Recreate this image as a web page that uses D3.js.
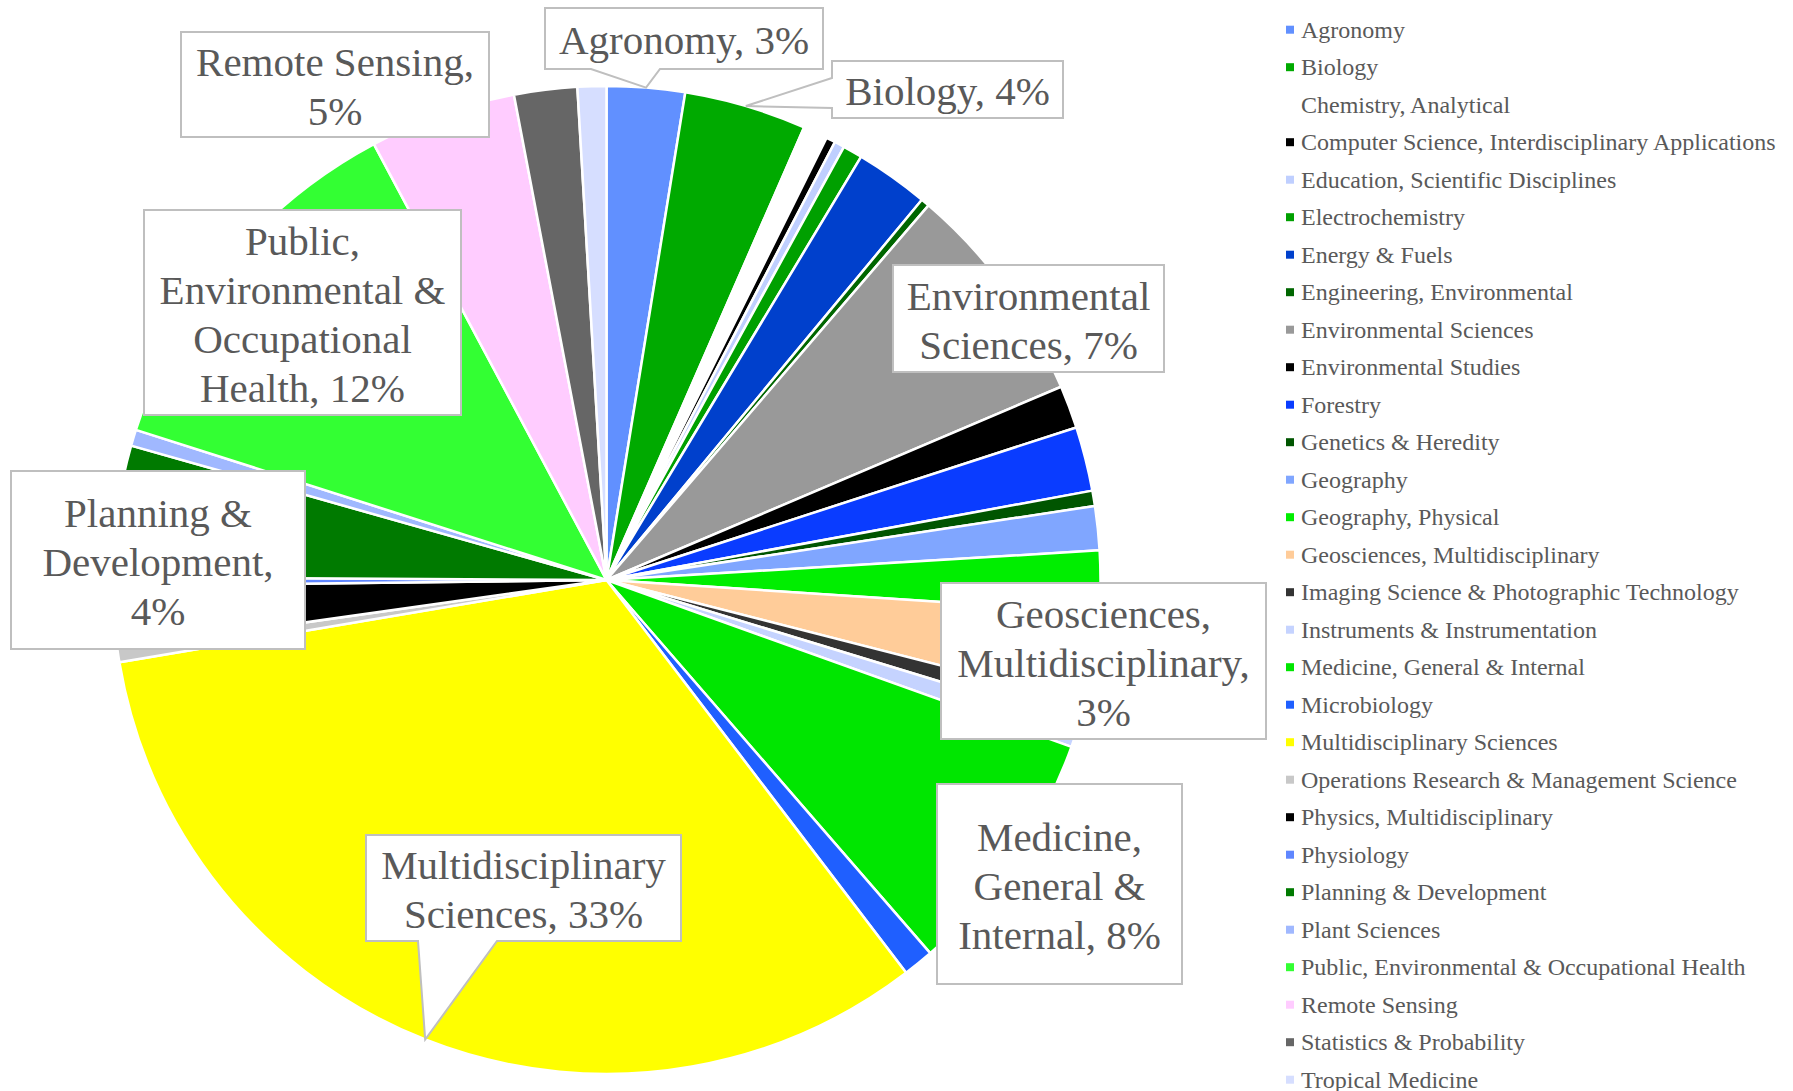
<!DOCTYPE html>
<html>
<head>
<meta charset="utf-8">
<script src="https://cdn.jsdelivr.net/npm/d3@7"></script>
<style>
  body { margin: 0; background: #fff; }
  svg { display: block; font-family: "Liberation Serif", "Times New Roman", serif; }
</style>
</head>
<body>
<svg id="chart"></svg>
<script>
// data
var categories = [
  'Agronomy', 'Biology', 'Chemistry, Analytical', 'Computer Science, Interdisciplinary Applications',
  'Education, Scientific Disciplines', 'Electrochemistry', 'Energy & Fuels', 'Engineering, Environmental',
  'Environmental Sciences', 'Environmental Studies', 'Forestry', 'Genetics & Heredity', 'Geography',
  'Geography, Physical', 'Geosciences, Multidisciplinary', 'Imaging Science & Photographic Technology',
  'Instruments & Instrumentation', 'Medicine, General & Internal', 'Microbiology',
  'Multidisciplinary Sciences', 'Operations Research & Management Science', 'Physics, Multidisciplinary',
  'Physiology', 'Planning & Development', 'Plant Sciences', 'Public, Environmental & Occupational Health',
  'Remote Sensing', 'Statistics & Probability', 'Tropical Medicine'
];

// share of papers, in percent
var values = [
  2.55, 4.0, 0.8, 0.3,
  0.33, 0.64, 2.4, 0.28,
  7.3, 1.4, 2.1, 0.5, 1.44,
  2.0, 2.94, 0.72,
  0.78, 8.14, 1.0,
  32.7, 0.44, 2.03,
  0.28, 4.3, 0.53, 12.28,
  4.8, 2.06, 0.94
];

var colors = [
  '#6190ff', '#00aa00', '#ffffff', '#000000',
  '#bfcfff', '#00a000', '#0040cc', '#006600',
  '#999999', '#000000', '#0a3cff', '#005500', '#80a6ff',
  '#00ee00', '#ffcc99', '#333333',
  '#c5d3ff', '#00e600', '#1f5fff',
  '#ffff00', '#c8c8c8', '#000000',
  '#5f86ff', '#007a00', '#a0b8ff', '#33ff33',
  '#ffccff', '#666666', '#d6deff'
];

// data label boxes (placed by hand, like the original)
var labelBoxes = {
  'Remote Sensing':                            {x: 181, y: 32,  w: 308, h: 105, lines: ['Remote Sensing,', '{p}']},
  'Agronomy':                                  {x: 545, y: 8,   w: 278, h: 61,  lines: ['Agronomy, {p}'], ptr: 'bottom', base: [591, 660]},
  'Biology':                                   {x: 832, y: 61,  w: 231, h: 57,  lines: ['Biology, {p}'], ptr: 'left', base: [78, 108]},
  'Environmental Sciences':                    {x: 893, y: 265, w: 271, h: 107, lines: ['Environmental', 'Sciences, {p}']},
  'Geosciences, Multidisciplinary':            {x: 941, y: 583, w: 325, h: 156, lines: ['Geosciences,', 'Multidisciplinary,', '{p}']},
  'Medicine, General & Internal':              {x: 937, y: 784, w: 245, h: 200, lines: ['Medicine,', 'General &', 'Internal, {p}']},
  'Multidisciplinary Sciences':                {x: 366, y: 835, w: 315, h: 106, lines: ['Multidisciplinary', 'Sciences, {p}'], ptr: 'bottom', base: [418, 497]},
  'Planning & Development':                    {x: 11,  y: 471, w: 294, h: 178, lines: ['Planning &', 'Development,', '{p}']},
  'Public, Environmental & Occupational Health': {x: 144, y: 210, w: 317, h: 205, lines: ['Public,', 'Environmental &', 'Occupational', 'Health, {p}']}
};

var width = 1793, height = 1091;
var cx = 606.5, cy = 580, radius = 494;

var svg = d3.select('#chart')
    .attr('width', width)
    .attr('height', height);

var total = d3.sum(values);
var rows = categories.map(function (c, i) { return {name: c, value: values[i], color: colors[i]}; });

var pie = d3.pie()
    .sort(null)
    .value(function (d) { return d.value; });

var arc = d3.arc()
    .innerRadius(0)
    .outerRadius(radius);

var arcs = pie(rows);

var g = svg.append('g').attr('transform', 'translate(' + cx + ',' + cy + ')');

g.selectAll('path.slice')
    .data(arcs)
    .enter()
    .append('path')
    .attr('class', 'slice')
    .attr('d', arc)
    .attr('fill', function (d) { return d.data.color; })
    .attr('stroke', '#fff')
    .attr('stroke-width', 2.5)
    .attr('stroke-linejoin', 'round');

// callout labels
var labels = svg.append('g');
var lineH = 49;

arcs.forEach(function (a) {
    var box = labelBoxes[a.data.name];
    if (!box) return;
    var pct = Math.round(a.data.value / total * 100) + '%';
    var mid = (a.startAngle + a.endAngle) / 2;
    var tip = [cx + radius * Math.sin(mid), cy - radius * Math.cos(mid)];
    var x0 = box.x, y0 = box.y, x1 = box.x + box.w, y1 = box.y + box.h;
    var p = d3.path();
    p.moveTo(x0, y0);
    p.lineTo(x1, y0);
    p.lineTo(x1, y1);
    if (box.ptr === 'bottom') {
        p.lineTo(box.base[1], y1);
        p.lineTo(tip[0], tip[1]);
        p.lineTo(box.base[0], y1);
        p.lineTo(x0, y1);
    } else if (box.ptr === 'left') {
        p.lineTo(x0, y1);
        p.lineTo(x0, box.base[1]);
        p.lineTo(tip[0], tip[1]);
        p.lineTo(x0, box.base[0]);
    } else {
        p.lineTo(x0, y1);
    }
    p.closePath();

    labels.append('path')
        .attr('d', p.toString())
        .attr('fill', '#fff')
        .attr('stroke', '#bfbfbf')
        .attr('stroke-width', 2);

    var top = y0 + (box.h - box.lines.length * lineH) / 2;
    var t = labels.append('text')
        .attr('text-anchor', 'middle')
        .attr('font-size', 41)
        .attr('fill', '#595959');
    box.lines.forEach(function (ln, i) {
        t.append('tspan')
            .attr('x', (x0 + x1) / 2)
            .attr('y', top + 40 + i * lineH)
            .text(ln.replace('{p}', pct));
    });
});

// legend
var legend = svg.append('g');
var legY0 = 29.7, legStep = 37.5;

var item = legend.selectAll('g.item')
    .data(rows)
    .enter()
    .append('g')
    .attr('class', 'item')
    .attr('transform', function (d, i) { return 'translate(1286,' + (legY0 + i * legStep) + ')'; });

item.append('rect')
    .attr('x', 0)
    .attr('y', -4)
    .attr('width', 8)
    .attr('height', 8)
    .attr('fill', function (d) { return d.color; });

item.append('text')
    .attr('x', 15)
    .attr('y', 8)
    .attr('font-size', 24)
    .attr('fill', '#595959')
    .text(function (d) { return d.name; });
</script>
</body>
</html>
